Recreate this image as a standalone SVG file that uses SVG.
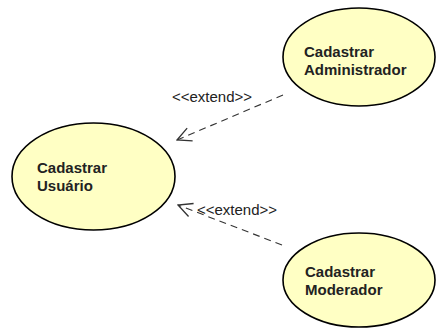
<svg xmlns="http://www.w3.org/2000/svg" width="436" height="329" viewBox="0 0 436 329">
<style>
.uc{fill:#FFFFC4;stroke:#000;stroke-width:1.6}
.t{font-family:"Liberation Sans",Arial,sans-serif;font-size:15px;font-weight:bold;fill:#222}
.lbl{font-family:"Liberation Sans",Arial,sans-serif;font-size:15px;fill:#222}
.dep{fill:none;stroke:#333;stroke-width:1.1;stroke-dasharray:7 5}
</style>
<defs>
<marker id="open" viewBox="0 0 16 16" refX="15" refY="8" markerWidth="16" markerHeight="16" markerUnits="userSpaceOnUse" orient="auto">
<path d="M1,1 L15,8 L1,15" fill="none" stroke="#333" stroke-width="1.3"/>
</marker>
</defs>
<rect width="436" height="329" fill="#fff"/>
<g id="connectors">
<g id="e1">
<line class="dep" x1="283" y1="95" x2="177" y2="140" marker-end="url(#open)"/>
<text class="lbl" x="172" y="102">&lt;&lt;extend&gt;&gt;</text>
</g>
<g id="e2">
<line class="dep" x1="282" y1="245" x2="178" y2="205" marker-end="url(#open)"/>
<text class="lbl" x="197" y="215">&lt;&lt;extend&gt;&gt;</text>
</g>
</g>
<g id="usuario">
<ellipse class="uc" cx="93.5" cy="176.5" rx="81.5" ry="53.5"/>
<text class="t" x="37" y="173">Cadastrar</text>
<text class="t" x="37" y="191">Usuário</text>
</g>
<g id="administrador">
<ellipse class="uc" cx="359" cy="57" rx="76" ry="49"/>
<text class="t" x="304" y="57">Cadastrar</text>
<text class="t" x="304" y="75">Administrador</text>
</g>
<g id="moderador">
<ellipse class="uc" cx="359" cy="280" rx="76" ry="47"/>
<text class="t" x="305" y="277">Cadastrar</text>
<text class="t" x="305" y="295">Moderador</text>
</g>
</svg>
